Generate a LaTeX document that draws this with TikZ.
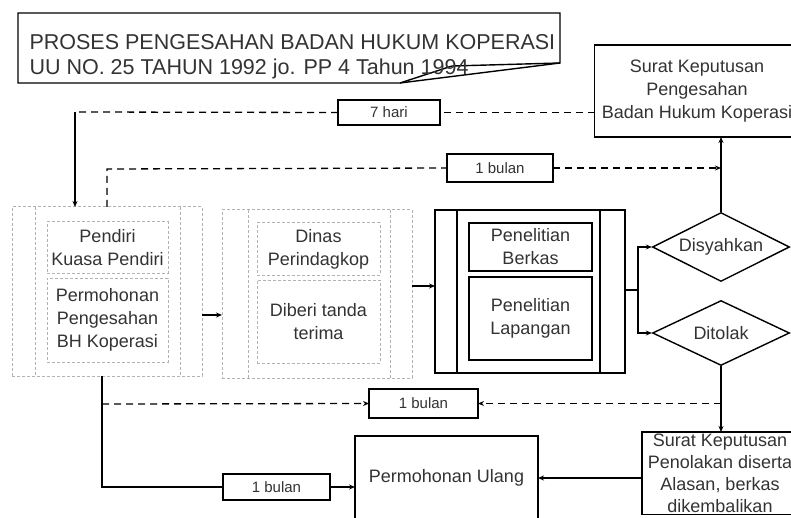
\documentclass[tikz,border=0pt]{standalone}
\usepackage{fontspec}
\setmainfont{Liberation Sans}
\usetikzlibrary{shapes.geometric,arrows.meta}

\begin{document}
\begin{tikzpicture}[x=1pt,y=-1pt,>={Stealth[length=6pt,width=5pt]},
  teks/.style={font=\fontsize{18}{23}\selectfont, text=black!80, align=center},
  kotak/.style={teks, rectangle, draw, line width=1.4pt, inner sep=0pt, outer sep=0pt},
  pudar/.style={teks, rectangle, draw=black!30, line width=1pt, densely dashed, inner sep=0pt, outer sep=0pt},
  waktu/.style={kotak, font=\fontsize{15}{18}\selectfont},
  pilihan/.style={teks, diamond, aspect=2, draw, line width=1.4pt, inner sep=0pt, minimum width=137pt, minimum height=69pt},
  putus/.style={line width=1.3pt, dash pattern=on 7pt off 5pt},
  garis/.style={line width=1.3pt}]
\useasboundingbox[fill=white] (0,0) rectangle (791,518);

\draw[line width=1.4pt] (18,13) -- (560,13) -- (560,63) -- (400,83) -- (18,83) -- cycle;
\draw[line width=1.4pt] (400,83) -- (452,66) -- (560,63);
\node[anchor=west, align=left, font=\fontsize{21.5}{25}\selectfont, text=black!80] (judul) at (26,57)
  {PROSES PENGESAHAN BADAN HUKUM KOPERASI\\UU NO. 25 TAHUN 1992 jo. PP 4 Tahun 1994};

\node[kotak, minimum width=205pt, minimum height=92pt] (skSah) at (697,91) {Surat Keputusan\\Pengesahan\\Badan Hukum Koperasi};
\node[waktu, minimum width=102pt, minimum height=25pt] (hari7) at (389,112.5) {7 hari};
\node[waktu, minimum width=106pt, minimum height=28pt] (bulan1) at (500,168) {1 bulan};

\node[pudar, minimum width=190pt, minimum height=169pt] (grp1) at (107,291.5) {};
\node[pudar, minimum width=121pt, minimum height=51pt] (pendiri) at (107.5,247.5) {Pendiri\\Kuasa Pendiri};
\node[pudar, minimum width=121pt, minimum height=84pt] (mohon) at (107.5,320) {Permohonan\\Pengesahan\\BH Koperasi};
\draw[draw=black!30, line width=1pt, densely dashed] ([xshift=23pt]grp1.north west) -- ([xshift=23pt]grp1.south west)
  ([xshift=-22pt]grp1.north east) -- ([xshift=-22pt]grp1.south east);

\node[pudar, minimum width=190pt, minimum height=168pt] (grp2) at (317,294) {};
\node[pudar, minimum width=123pt, minimum height=52pt] (dinas) at (318.5,249) {Dinas\\Perindagkop};
\node[pudar, minimum width=123pt, minimum height=83pt] (terima) at (318.5,321.5) {Diberi tanda\\terima};
\draw[draw=black!30, line width=1pt, densely dashed] ([xshift=26pt]grp2.north west) -- ([xshift=26pt]grp2.south west)
  ([xshift=-22pt]grp2.north east) -- ([xshift=-22pt]grp2.south east);

\node[kotak, minimum width=190pt, minimum height=163pt] (grp3) at (530,291.5) {};
\node[kotak, minimum width=123pt, minimum height=48pt] (berkas) at (530.5,247) {Penelitian\\Berkas};
\node[kotak, minimum width=123pt, minimum height=83pt] (lapangan) at (530.5,318.5) {Penelitian\\Lapangan};
\draw[line width=1.4pt] ([xshift=22pt]grp3.north west) -- ([xshift=22pt]grp3.south west)
  ([xshift=-25pt]grp3.north east) -- ([xshift=-25pt]grp3.south east);

\node[pilihan] (sah) at (721,247) {Disyahkan};
\node[pilihan, minimum height=65pt] (tolak) at (721,333) {Ditolak};

\node[waktu, minimum width=109pt, minimum height=29pt] (bulan2) at (423.5,403.5) {1 bulan};
\node[kotak, anchor=north, minimum width=156pt, inner ysep=2pt, font=\fontsize{18}{22}\selectfont] (skTolak) at (720,432)
  {Surat Keputusan\\Penolakan diserta\\Alasan, berkas\\dikembalikan};
\node[kotak, minimum width=183pt, minimum height=84pt] (ulang) at (446.5,478) {Permohonan Ulang};
\node[waktu, minimum width=107pt, minimum height=26pt] (bulan3) at (276.5,487) {1 bulan};

\coordinate (k1) at (75,112);
\coordinate (k2) at (107,169);
\coordinate (k3) at (0,315);
\coordinate (k4) at (0,286);
\coordinate (k5) at (638,290);
\coordinate (k6) at (102,404);
\coordinate (k7) at (102,487);

\draw[putus] (skSah.west |- hari7) -- (hari7.east);
\draw[putus] (hari7.west) -- (k1);
\draw[garis,->] (k1) -- (k1 |- grp1.north);
\draw[putus] (k2 |- grp1.north) -- (k2) -- (bulan1.west);
\draw[putus,->] (bulan1.east) -- (bulan1.east -| sah.north);
\draw[garis,->] (sah.north) -- (sah.north |- skSah.south);
\draw[garis,->] (grp1.east |- k3) -- (grp2.west |- k3);
\draw[garis,->] (grp2.east |- k4) -- (grp3.west |- k4);
\draw[garis] (grp3.east |- k5) -- (k5);
\draw[garis,->] (k5) |- (sah.west);
\draw[garis,->] (k5) |- (tolak.west);
\draw[garis,->] (tolak.south) -- (tolak.south |- skTolak.north);
\draw[putus,->] (tolak.south |- bulan2) -- (bulan2.east);
\draw[putus,->] (k6) -- (bulan2.west);
\draw[garis] (k7 |- grp1.south) -- (k7) -- (bulan3.west);
\draw[garis,->] (bulan3.east) -- (bulan3.east -| ulang.west);
\draw[garis,->] (skTolak.west |- ulang.east) -- (ulang.east);
\end{tikzpicture}
\end{document}
